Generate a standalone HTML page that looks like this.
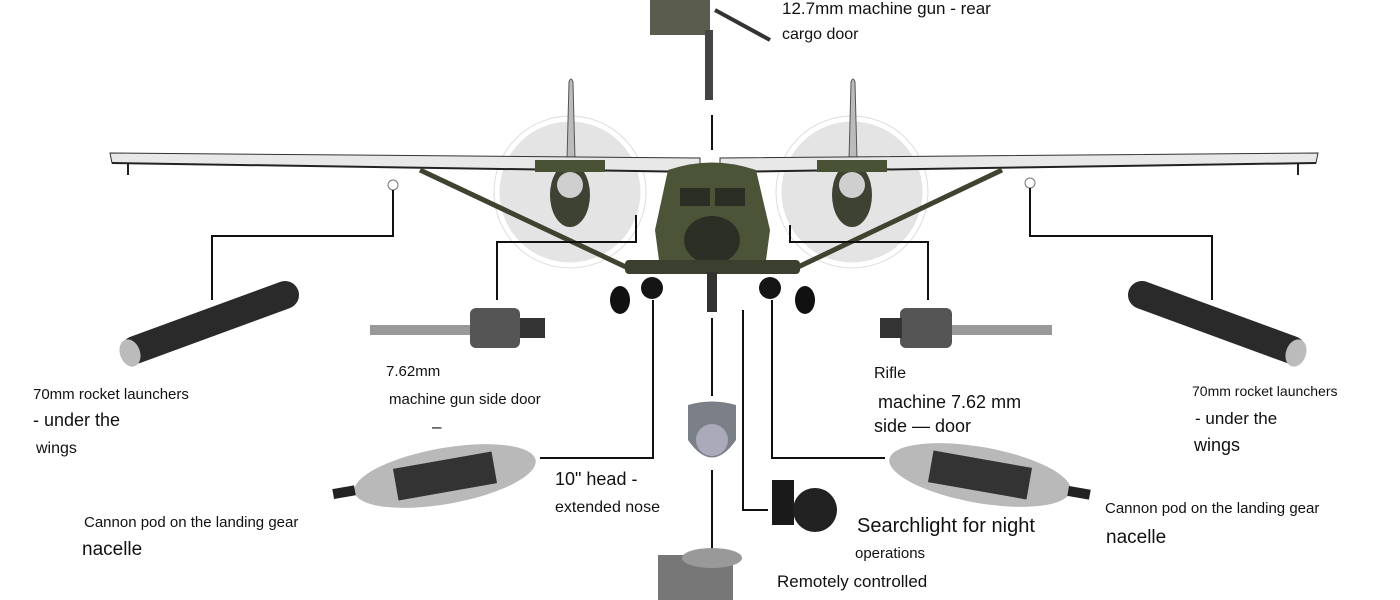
<!DOCTYPE html>
<html><head><meta charset="utf-8"><style>
html,body{margin:0;padding:0;background:#fff;width:1400px;height:600px;overflow:hidden}
svg{display:block}
text{font-family:"Liberation Sans",sans-serif;fill:#111}
</style></head><body>
<svg width="1400" height="600" viewBox="0 0 1400 600" xmlns="http://www.w3.org/2000/svg">
<!-- propeller discs -->
<circle cx="570" cy="192" r="72" fill="#e4e4e4" stroke="#fff" stroke-width="3"/>
<circle cx="570" cy="192" r="76" fill="none" stroke="#ddd" stroke-width="1"/>
<circle cx="852" cy="192" r="72" fill="#e4e4e4" stroke="#fff" stroke-width="3"/>
<circle cx="852" cy="192" r="76" fill="none" stroke="#ddd" stroke-width="1"/>
<!-- fins -->
<path d="M567 160 L569 82 Q571 76 573 82 L575 160Z" fill="#bbb" stroke="#555" stroke-width="1"/>
<path d="M849 160 L851 82 Q853 76 855 82 L857 160Z" fill="#bbb" stroke="#555" stroke-width="1"/>
<!-- wings -->
<path d="M110 153 L700 158 L700 172 L112 163Z" fill="#e8e8e8" stroke="#333" stroke-width="1"/>
<path d="M1318 153 L720 158 L720 172 L1316 163Z" fill="#e8e8e8" stroke="#333" stroke-width="1"/>
<line x1="112" y1="163" x2="700" y2="172" stroke="#222" stroke-width="2"/>
<line x1="1316" y1="163" x2="720" y2="172" stroke="#222" stroke-width="2"/>
<line x1="128" y1="163" x2="128" y2="175" stroke="#222" stroke-width="2"/>
<line x1="1298" y1="163" x2="1298" y2="175" stroke="#222" stroke-width="2"/>
<circle cx="393" cy="185" r="5" fill="#fff" stroke="#777"/>
<circle cx="1030" cy="183" r="5" fill="#fff" stroke="#777"/>
<!-- struts -->
<line x1="420" y1="170" x2="628" y2="268" stroke="#3e4430" stroke-width="5"/>
<line x1="1002" y1="170" x2="796" y2="268" stroke="#3e4430" stroke-width="5"/>
<!-- nacelles -->
<ellipse cx="570" cy="195" rx="20" ry="32" fill="#3d4232"/>
<circle cx="570" cy="185" r="13" fill="#cfcfcf"/>
<ellipse cx="852" cy="195" rx="20" ry="32" fill="#3d4232"/>
<circle cx="852" cy="185" r="13" fill="#cfcfcf"/>
<path d="M535 160 H605 V172 H535Z" fill="#4a5236"/>
<path d="M817 160 H887 V172 H817Z" fill="#4a5236"/>
<!-- fuselage -->
<path d="M668 170 Q712 155 756 170 L770 230 L765 268 L660 268 L655 230Z" fill="#4b5437"/>
<rect x="680" y="188" width="30" height="18" fill="#2a2e24"/>
<rect x="715" y="188" width="30" height="18" fill="#2a2e24"/>
<ellipse cx="712" cy="240" rx="28" ry="24" fill="#2b2f26"/>
<rect x="625" y="260" width="175" height="14" rx="4" fill="#3a3f2e"/>
<!-- gear -->
<ellipse cx="620" cy="300" rx="10" ry="14" fill="#111"/>
<ellipse cx="805" cy="300" rx="10" ry="14" fill="#111"/>
<circle cx="652" cy="288" r="11" fill="#151515"/>
<circle cx="770" cy="288" r="11" fill="#151515"/>
<rect x="707" y="272" width="10" height="40" fill="#333"/>
<!-- leader lines -->
<g stroke="#111" stroke-width="2" fill="none">
<polyline points="393,190 393,236 212,236 212,300"/>
<polyline points="1030,188 1030,236 1212,236 1212,300"/>
<polyline points="636,215 636,242 497,242 497,300"/>
<polyline points="790,225 790,242 928,242 928,300"/>
<polyline points="653,300 653,458 540,458"/>
<polyline points="743,310 743,510 768,510"/>
<polyline points="772,300 772,458 885,458"/>
<line x1="712" y1="318" x2="712" y2="396"/>
<line x1="712" y1="470" x2="712" y2="560"/>
<line x1="712" y1="115" x2="712" y2="150"/>
</g>
<!-- top gun -->
<rect x="650" y="0" width="60" height="35" fill="#5a5c4e"/>
<rect x="705" y="30" width="8" height="70" fill="#444"/>
<line x1="715" y1="10" x2="770" y2="40" stroke="#333" stroke-width="4"/>
<!-- rockets -->
<line x1="285" y1="295" x2="135" y2="350" stroke="#2a2a2a" stroke-width="28" stroke-linecap="round"/>
<ellipse cx="130" cy="353" rx="10" ry="14" fill="#bbb" transform="rotate(-20 130 353)"/>
<line x1="1142" y1="295" x2="1292" y2="350" stroke="#2a2a2a" stroke-width="28" stroke-linecap="round"/>
<ellipse cx="1296" cy="353" rx="10" ry="14" fill="#bbb" transform="rotate(20 1296 353)"/>
<!-- miniguns -->
<rect x="370" y="325" width="105" height="10" fill="#999"/>
<rect x="470" y="308" width="50" height="40" rx="6" fill="#555"/>
<rect x="520" y="318" width="25" height="20" fill="#333"/>
<rect x="950" y="325" width="102" height="10" fill="#999"/>
<rect x="900" y="308" width="52" height="40" rx="6" fill="#555"/>
<rect x="880" y="318" width="22" height="20" fill="#333"/>
<!-- pods -->
<g transform="rotate(-10 445 476)"><ellipse cx="445" cy="476" rx="92" ry="28" fill="#b9b9b9"/><rect x="395" y="460" width="100" height="32" fill="#333"/></g>
<rect x="333" y="487" width="22" height="10" fill="#222" transform="rotate(-10 345 492)"/>
<g transform="rotate(10 980 475)"><ellipse cx="980" cy="475" rx="92" ry="28" fill="#b9b9b9"/><rect x="930" y="459" width="100" height="32" fill="#333"/></g>
<rect x="1068" y="488" width="22" height="10" fill="#222" transform="rotate(10 1080 493)"/>
<!-- turret -->
<path d="M688 405 Q712 398 736 405 L736 440 Q712 475 688 440Z" fill="#7a7f88"/>
<circle cx="712" cy="440" r="16" fill="#aab"/>
<!-- searchlight -->
<rect x="772" y="480" width="22" height="45" fill="#1a1a1a"/>
<circle cx="815" cy="510" r="22" fill="#222"/>
<!-- bottom gun -->
<rect x="658" y="555" width="75" height="45" fill="#777"/>
<ellipse cx="712" cy="558" rx="30" ry="10" fill="#999"/>
<!-- text -->
<text x="782" y="14" font-size="17">12.7mm machine gun - rear</text>
<text x="782" y="39" font-size="16">cargo door</text>
<text x="33" y="399" font-size="15">70mm rocket launchers</text>
<text x="33" y="426" font-size="18">- under the</text>
<text x="36" y="453" font-size="16">wings</text>
<text x="386" y="376" font-size="15">7.62mm</text>
<text x="389" y="404" font-size="15">machine gun side door</text>
<text x="432" y="432" font-size="17">–</text>
<text x="555" y="485" font-size="18">10" head -</text>
<text x="555" y="512" font-size="16">extended nose</text>
<text x="84" y="527" font-size="15">Cannon pod on the landing gear</text>
<text x="82" y="555" font-size="19">nacelle</text>
<text x="874" y="378" font-size="16">Rifle</text>
<text x="878" y="408" font-size="18">machine 7.62 mm</text>
<text x="874" y="432" font-size="18">side  — door</text>
<text x="1192" y="396" font-size="14">70mm rocket launchers</text>
<text x="1195" y="424" font-size="17">- under the</text>
<text x="1194" y="451" font-size="18">wings</text>
<text x="857" y="532" font-size="20">Searchlight for night</text>
<text x="855" y="558" font-size="15">operations</text>
<text x="777" y="587" font-size="17">Remotely controlled</text>
<text x="1105" y="513" font-size="15">Cannon pod on the landing gear</text>
<text x="1106" y="543" font-size="19">nacelle</text>
</svg>
</body></html>
